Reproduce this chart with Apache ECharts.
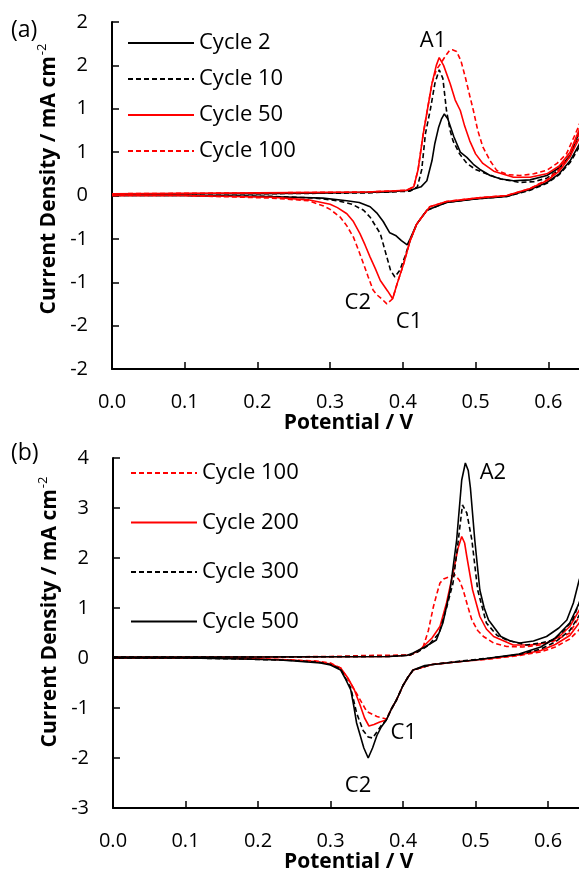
<!DOCTYPE html>
<html>
<head>
<meta charset="utf-8">
<script src="https://cdn.jsdelivr.net/npm/echarts@6/dist/echarts.min.js"></script>
<style>
html, body { margin: 0; padding: 0; background: #fff; }
#main { width: 579px; height: 875px; }
</style>
</head>
<body>
<div id="main"></div>
<script>
// ---- data: [potential V, current density mA cm-2], forward scan then reverse scan ----
var cyc2A = [[0,0.02],[0.1,0.02],[0.2,0.02],[0.3,0.03],[0.38,0.04],[0.41,0.06],[0.425,0.1],[0.433,0.17],[0.44,0.4],[0.444,0.6],[0.449,0.78],[0.453,0.88],[0.457,0.94],[0.462,0.88],[0.47,0.68],[0.479,0.5],[0.488,0.44],[0.497,0.36],[0.506,0.3],[0.52,0.23],[0.535,0.19],[0.552,0.17],[0.575,0.18],[0.598,0.23],[0.615,0.32],[0.63,0.46],[0.642,0.72],[0.66,1.1],
	[0.66,0.9],[0.642,0.58],[0.63,0.4],[0.615,0.25],[0.598,0.15],[0.575,0.07],[0.543,-0.01],[0.5,-0.04],[0.46,-0.08],[0.433,-0.17],[0.419,-0.33],[0.41,-0.5],[0.406,-0.57],[0.398,-0.52],[0.39,-0.46],[0.382,-0.43],[0.373,-0.3],[0.364,-0.2],[0.355,-0.13],[0.34,-0.08],[0.323,-0.06],[0.29,-0.03],[0.25,-0.02],[0.2,-0.01],[0.1,0],[0,0]];
var cyc10A = [[0,0.02],[0.2,0.02],[0.35,0.03],[0.41,0.05],[0.42,0.1],[0.426,0.3],[0.431,0.71],[0.438,1.0],[0.444,1.29],[0.45,1.45],[0.455,1.35],[0.46,0.98],[0.465,0.75],[0.469,0.63],[0.478,0.48],[0.488,0.37],[0.5,0.3],[0.515,0.25],[0.535,0.19],[0.561,0.15],[0.58,0.16],[0.598,0.2],[0.615,0.3],[0.63,0.45],[0.642,0.7],[0.66,1.1],
	[0.66,0.9],[0.642,0.55],[0.63,0.38],[0.615,0.24],[0.598,0.14],[0.575,0.06],[0.543,-0.01],[0.5,-0.04],[0.46,-0.08],[0.433,-0.17],[0.419,-0.33],[0.41,-0.52],[0.403,-0.7],[0.396,-0.86],[0.389,-0.94],[0.383,-0.86],[0.378,-0.71],[0.369,-0.44],[0.355,-0.25],[0.346,-0.17],[0.33,-0.1],[0.31,-0.06],[0.28,-0.03],[0.22,-0.01],[0.1,0],[0,0]];
var cyc50A = [[0,0.02],[0.2,0.03],[0.35,0.04],[0.405,0.06],[0.415,0.1],[0.421,0.3],[0.428,0.71],[0.434,1.0],[0.44,1.29],[0.446,1.5],[0.45,1.59],[0.456,1.5],[0.465,1.29],[0.472,1.1],[0.479,0.98],[0.485,0.8],[0.492,0.63],[0.5,0.48],[0.51,0.37],[0.525,0.28],[0.552,0.21],[0.575,0.21],[0.598,0.25],[0.615,0.34],[0.63,0.5],[0.642,0.75],[0.66,1.2],
	[0.66,1.0],[0.642,0.65],[0.63,0.45],[0.615,0.28],[0.598,0.17],[0.575,0.08],[0.543,0],[0.5,-0.03],[0.46,-0.07],[0.437,-0.13],[0.426,-0.25],[0.419,-0.33],[0.41,-0.52],[0.401,-0.79],[0.392,-1.02],[0.386,-1.19],[0.379,-1.1],[0.369,-0.98],[0.362,-0.84],[0.355,-0.71],[0.348,-0.57],[0.341,-0.44],[0.332,-0.3],[0.323,-0.21],[0.31,-0.14],[0.3,-0.1],[0.27,-0.05],[0.22,-0.02],[0.1,0],[0,0]];
var cyc100A = [[0,0.02],[0.2,0.03],[0.35,0.04],[0.405,0.06],[0.415,0.1],[0.421,0.3],[0.428,0.71],[0.434,1.0],[0.44,1.29],[0.446,1.45],[0.452,1.52],[0.458,1.6],[0.464,1.67],[0.468,1.68],[0.474,1.66],[0.48,1.55],[0.486,1.36],[0.492,1.15],[0.497,0.98],[0.503,0.75],[0.51,0.56],[0.52,0.4],[0.529,0.29],[0.545,0.24],[0.561,0.23],[0.58,0.25],[0.598,0.29],[0.612,0.37],[0.625,0.48],[0.642,0.8],[0.66,1.3],
	[0.66,1.1],[0.642,0.7],[0.63,0.5],[0.615,0.3],[0.598,0.18],[0.575,0.08],[0.543,0],[0.5,-0.03],[0.46,-0.07],[0.437,-0.13],[0.426,-0.25],[0.419,-0.33],[0.41,-0.52],[0.401,-0.79],[0.392,-1.02],[0.386,-1.19],[0.378,-1.25],[0.372,-1.2],[0.365,-1.15],[0.359,-1.09],[0.352,-0.93],[0.346,-0.79],[0.339,-0.63],[0.332,-0.48],[0.323,-0.35],[0.314,-0.25],[0.3,-0.16],[0.291,-0.12],[0.27,-0.06],[0.22,-0.03],[0.1,0],[0,0]];

var cyc100B = [[0,0.02],[0.2,0.02],[0.3,0.03],[0.35,0.05],[0.41,0.06],[0.42,0.12],[0.428,0.23],[0.435,0.55],[0.442,1.03],[0.447,1.3],[0.451,1.5],[0.456,1.58],[0.463,1.62],[0.472,1.66],[0.478,1.55],[0.483,1.36],[0.489,1.05],[0.495,0.76],[0.503,0.55],[0.511,0.43],[0.525,0.3],[0.543,0.23],[0.565,0.22],[0.589,0.26],[0.61,0.35],[0.63,0.5],[0.642,0.8],[0.66,1.3],
	[0.66,0.9],[0.642,0.55],[0.63,0.38],[0.61,0.22],[0.59,0.12],[0.56,0.05],[0.52,-0.02],[0.48,-0.07],[0.44,-0.13],[0.414,-0.24],[0.407,-0.38],[0.4,-0.55],[0.391,-0.84],[0.384,-1.02],[0.377,-1.22],[0.364,-1.17],[0.35,-1.07],[0.336,-0.71],[0.322,-0.37],[0.314,-0.2],[0.3,-0.1],[0.28,-0.06],[0.23,-0.03],[0.15,0],[0,0]];
var cyc200B = [[0,0.02],[0.2,0.02],[0.38,0.03],[0.41,0.06],[0.423,0.16],[0.44,0.4],[0.451,0.63],[0.46,1.1],[0.469,1.7],[0.476,2.2],[0.481,2.43],[0.485,2.3],[0.488,2.03],[0.496,1.36],[0.506,0.83],[0.515,0.58],[0.525,0.43],[0.552,0.26],[0.575,0.26],[0.598,0.3],[0.615,0.42],[0.63,0.63],[0.643,0.95],[0.66,1.5],
	[0.66,1.1],[0.643,0.7],[0.63,0.45],[0.61,0.27],[0.59,0.15],[0.56,0.06],[0.52,-0.01],[0.48,-0.07],[0.44,-0.13],[0.414,-0.24],[0.407,-0.38],[0.4,-0.55],[0.391,-0.84],[0.384,-1.02],[0.377,-1.24],[0.368,-1.28],[0.36,-1.33],[0.353,-1.36],[0.347,-1.2],[0.341,-0.95],[0.333,-0.64],[0.324,-0.4],[0.314,-0.2],[0.3,-0.12],[0.28,-0.07],[0.23,-0.03],[0.15,0],[0,0]];
var cyc300B = [[0,0.02],[0.2,0.02],[0.38,0.03],[0.41,0.06],[0.42,0.12],[0.435,0.25],[0.45,0.5],[0.46,1.0],[0.469,1.5],[0.475,2.2],[0.482,3.06],[0.488,2.9],[0.495,2.36],[0.503,1.36],[0.515,0.7],[0.53,0.45],[0.543,0.36],[0.57,0.26],[0.59,0.3],[0.607,0.36],[0.622,0.55],[0.634,0.76],[0.643,1.1],[0.66,1.8],
	[0.66,1.4],[0.643,0.85],[0.63,0.55],[0.61,0.32],[0.59,0.18],[0.56,0.07],[0.52,0],[0.48,-0.06],[0.44,-0.13],[0.414,-0.24],[0.407,-0.38],[0.4,-0.55],[0.391,-0.84],[0.384,-1.02],[0.377,-1.24],[0.37,-1.35],[0.364,-1.48],[0.358,-1.6],[0.352,-1.58],[0.345,-1.45],[0.336,-1.1],[0.328,-0.6],[0.314,-0.22],[0.3,-0.13],[0.286,-0.09],[0.25,-0.05],[0.18,-0.02],[0.1,0],[0,0]];
var cyc500B = [[0,0.02],[0.2,0.02],[0.38,0.03],[0.405,0.05],[0.414,0.1],[0.43,0.22],[0.446,0.36],[0.455,0.7],[0.465,1.36],[0.474,2.36],[0.481,3.56],[0.486,3.9],[0.49,3.75],[0.493,3.4],[0.499,2.36],[0.506,1.36],[0.512,1.0],[0.518,0.76],[0.535,0.43],[0.548,0.34],[0.561,0.3],[0.58,0.34],[0.598,0.43],[0.615,0.6],[0.626,0.76],[0.635,1.1],[0.643,1.56],[0.66,2.3],
	[0.66,1.8],[0.643,1.1],[0.63,0.7],[0.61,0.4],[0.59,0.22],[0.56,0.08],[0.52,0],[0.5,-0.04],[0.46,-0.1],[0.43,-0.15],[0.414,-0.24],[0.407,-0.38],[0.4,-0.55],[0.391,-0.84],[0.384,-1.02],[0.377,-1.24],[0.37,-1.38],[0.364,-1.55],[0.358,-1.8],[0.352,-2.0],[0.346,-1.8],[0.34,-1.5],[0.336,-1.3],[0.332,-0.95],[0.328,-0.64],[0.32,-0.4],[0.314,-0.24],[0.3,-0.14],[0.286,-0.1],[0.25,-0.06],[0.23,-0.04],[0.18,-0.02],[0.1,0],[0,0]];

// tick labels as printed (bottom to top)
var xTickLabels = ['0.0','0.1','0.2','0.3','0.4','0.5','0.6','0.7'];
var yTickLabelsA = ['-2','-2','-1','-1','0','1','1','2','2'];
var yTickLabelsB = ['-3','-2','-1','0','1','2','3','4'];

// peak labels
var peaksA = [{name:'A1', value:[0.4415,1.787]}, {name:'C2', value:[0.338,-1.233]}, {name:'C1', value:[0.4085,-1.452]}];
var peaksB = [{name:'A2', value:[0.524,3.7]}, {name:'C1', value:[0.401,-1.5]}, {name:'C2', value:[0.338,-2.56]}];

var FONT = 'Open Sans';
var dash = [5, 3];

function makeX(idx) {
	return {
		type: 'value', gridIndex: idx, min: 0, max: 0.7, interval: 0.1,
		name: 'Potential / V', nameLocation: 'middle', nameGap: 43,
		nameTextStyle: { fontFamily: FONT, fontSize: 21, fontWeight: 'bold', color: '#000', padding: [0, 36, 0, 0] },
		axisLine: { onZero: false, lineStyle: { color: '#000', width: 2 } },
		axisTick: { inside: true, length: 7, lineStyle: { color: '#000', width: 1.5 } },
		axisLabel: { margin: 23, fontFamily: FONT, fontSize: 20, color: '#000',
			formatter: function(v) { return xTickLabels[Math.round(v * 10)]; } },
		splitLine: { show: false }
	};
}

function makeY(idx, min, max, step, labels, shift) {
	return {
		type: 'value', gridIndex: idx, min: min, max: max, interval: step,
		name: '{b|Current Density / mA cm}{s|-2}', nameLocation: 'middle', nameGap: 42,
		nameTextStyle: { fontFamily: FONT, color: '#000', padding: [0, 0, 0, shift],
			rich: {
				b: { fontFamily: FONT, fontSize: 21, fontWeight: 'bold', color: '#000', lineHeight: 26 },
				s: { fontFamily: FONT, fontSize: 13, color: '#000', verticalAlign: 'top', lineHeight: 26, padding: [0, 0, 9, 1] }
			} },
		axisLine: { show: true, lineStyle: { color: '#000', width: 2 } },
		axisTick: { show: true, inside: true, length: 7, lineStyle: { color: '#000', width: 1.5 } },
		axisLabel: { margin: 24, fontFamily: FONT, fontSize: 20, color: '#000',
			formatter: function(v) { return labels[Math.round((v - min) / step)]; } },
		splitLine: { show: false }
	};
}

function curve(name, data, idx, color, dashed) {
	return {
		name: name, type: 'line', data: data, xAxisIndex: idx, yAxisIndex: idx,
		symbol: 'none', smooth: false, animation: false,
		lineStyle: { color: color, width: 1.6, type: dashed ? dash : 'solid' },
		itemStyle: { color: color }
	};
}

function peakLabels(data, idx) {
	return {
		type: 'scatter', data: data, xAxisIndex: idx, yAxisIndex: idx, symbolSize: 0,
		silent: true, animation: false, itemStyle: { opacity: 1 },
		label: { show: true, position: 'inside', formatter: '{b}', fontFamily: FONT, fontSize: 22, color: '#000' }
	};
}

var legendText = { fontFamily: FONT, fontSize: 22, color: '#000', lineHeight: 20 };

var option = {
	backgroundColor: '#fff',
	grid: [
		{ left: 112, top: 22, width: 509, height: 347, outerBoundsMode: 'none', containLabel: false },
		{ left: 113, top: 458, width: 507.5, height: 350, outerBoundsMode: 'none', containLabel: false }
	],
	xAxis: [makeX(0), makeX(1)],
	yAxis: [makeY(0, -2, 2, 0.5, yTickLabelsA, 33), makeY(1, -3, 4, 1, yTickLabelsB, 42)],
	legend: [
		{ orient: 'vertical', left: 127, top: 32, itemWidth: 66, itemHeight: 12, itemGap: 14, padding: 0,
		  itemStyle: { opacity: 0 },
		  data: ['Cycle 2', 'Cycle 10', 'Cycle 50', 'Cycle 100'], textStyle: legendText, selectedMode: false },
		{ orient: 'vertical', left: 130, top: 462, itemWidth: 66, itemHeight: 12, itemGap: 27.5, padding: 0,
		  itemStyle: { opacity: 0 },
		  data: ['Cycle 100 ', 'Cycle 200', 'Cycle 300', 'Cycle 500'], textStyle: legendText, selectedMode: false }
	],
	graphic: [
		{ type: 'text', left: 11, top: 19, style: { text: '(a)', fontFamily: FONT, fontSize: 23, fill: '#000' } },
		{ type: 'text', left: 11, top: 442, style: { text: '(b)', fontFamily: FONT, fontSize: 23, fill: '#000' } }
	],
	series: [
		curve('Cycle 2', cyc2A, 0, '#000000', false),
		curve('Cycle 10', cyc10A, 0, '#000000', true),
		curve('Cycle 50', cyc50A, 0, '#ff0000', false),
		curve('Cycle 100', cyc100A, 0, '#ff0000', true),
		curve('Cycle 100 ', cyc100B, 1, '#ff0000', true),
		curve('Cycle 200', cyc200B, 1, '#ff0000', false),
		curve('Cycle 300', cyc300B, 1, '#000000', true),
		curve('Cycle 500', cyc500B, 1, '#000000', false),
		peakLabels(peaksA, 0),
		peakLabels(peaksB, 1)
	]
};

var myChart = echarts.init(document.getElementById('main'), null, { renderer: 'canvas' });
myChart.setOption(option);
</script>
</body>
</html>
